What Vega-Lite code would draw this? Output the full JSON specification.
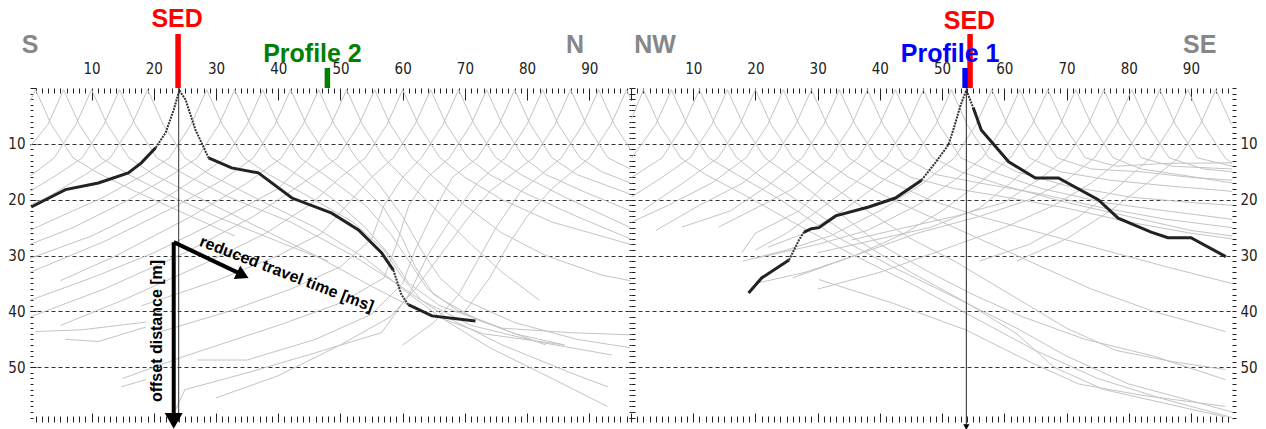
{
"$schema": "https://vega.github.io/schema/vega-lite/v6.json",
"background": "white",
"padding": {"left": 7, "top": 7, "right": 0, "bottom": 0},
"spacing": 0,
"bounds": "flush",
"config": {
  "view": {"stroke": null},
  "axis": {"labelFont": "Liberation Sans Narrow, DejaVu Sans Condensed, Liberation Sans", "labelFontSize": 15, "labelColor": "#222222", "tickColor": "#222222", "tickWidth": 1, "domain": false, "title": null}
},
"datasets": {
  "gl": [
    {"c":1,"x":0.1,"y":2.4},{"c":1,"x":1,"y":0.3},{"c":1,"x":3.5,"y":6.5},{"c":1,"x":7,"y":12.5},{"c":1,"x":11,"y":15.2},{"c":1,"x":17,"y":18.5},{"c":1,"x":25,"y":22.5},{"c":1,"x":33,"y":26.5},
    {"c":2,"x":0.1,"y":10.5},{"c":2,"x":3,"y":6.5},{"c":2,"x":5.5,"y":0.3},{"c":2,"x":8,"y":6.5},{"c":2,"x":11.5,"y":12.5},{"c":2,"x":16,"y":15.5},{"c":2,"x":22,"y":19},{"c":2,"x":30,"y":23},{"c":2,"x":40,"y":27.5},{"c":2,"x":48,"y":31},
    {"c":3,"x":0.1,"y":15.8},{"c":3,"x":4,"y":12.5},{"c":3,"x":7.5,"y":6.5},{"c":3,"x":10,"y":0.3},{"c":3,"x":12.5,"y":6.5},{"c":3,"x":16,"y":12.5},{"c":3,"x":20,"y":15.5},{"c":3,"x":27,"y":19.5},{"c":3,"x":36,"y":24.5},{"c":3,"x":46,"y":30},{"c":3,"x":55,"y":35.5},{"c":3,"x":62,"y":39.5},{"c":3,"x":73,"y":44},{"c":3,"x":86,"y":46},
    {"c":4,"x":0.1,"y":18.5},{"c":4,"x":4.5,"y":15.5},{"c":4,"x":8.5,"y":12.5},{"c":4,"x":12,"y":6.5},{"c":4,"x":14.5,"y":0.3},{"c":4,"x":17,"y":6.5},{"c":4,"x":20.5,"y":12.5},{"c":4,"x":25,"y":15.5},{"c":4,"x":32,"y":19.5},{"c":4,"x":42,"y":24},{"c":4,"x":52,"y":30},{"c":4,"x":59,"y":35},{"c":4,"x":67,"y":41},{"c":4,"x":76,"y":46},{"c":4,"x":87,"y":51},{"c":4,"x":93,"y":53.5},
    {"c":5,"x":0.1,"y":21},{"c":5,"x":3,"y":19.5},{"c":5,"x":9,"y":15.5},{"c":5,"x":13,"y":12.5},{"c":5,"x":16.5,"y":6.5},{"c":5,"x":19,"y":0.3},{"c":5,"x":21.5,"y":6.5},{"c":5,"x":25,"y":12.5},{"c":5,"x":29,"y":15.5},{"c":5,"x":36,"y":19.5},{"c":5,"x":46,"y":25},{"c":5,"x":54,"y":30.5},{"c":5,"x":60,"y":36},{"c":5,"x":66,"y":41},{"c":5,"x":74,"y":46.5},{"c":5,"x":84,"y":52},{"c":5,"x":92.9,"y":57},
    {"c":6,"x":0.1,"y":25.5},{"c":6,"x":3,"y":24},{"c":6,"x":12,"y":19.5},{"c":6,"x":18.5,"y":15.5},{"c":6,"x":22.5,"y":12.5},{"c":6,"x":26,"y":6.5},{"c":6,"x":28.5,"y":0.3},{"c":6,"x":31,"y":6.5},{"c":6,"x":34.5,"y":12.5},{"c":6,"x":38.5,"y":15.5},{"c":6,"x":45,"y":19.5},{"c":6,"x":52,"y":24},{"c":6,"x":57,"y":29},{"c":6,"x":60,"y":34},{"c":6,"x":63,"y":38},{"c":6,"x":71,"y":42.5},{"c":6,"x":82,"y":45.5},{"c":6,"x":93.6,"y":47.8},
    {"c":7,"x":0.1,"y":28},{"c":7,"x":7,"y":25},{"c":7,"x":16,"y":20},{"c":7,"x":23,"y":15.5},{"c":7,"x":27,"y":12.5},{"c":7,"x":30.5,"y":6.5},{"c":7,"x":33,"y":0.3},{"c":7,"x":35.5,"y":6.5},{"c":7,"x":39,"y":12.5},{"c":7,"x":43,"y":15.5},{"c":7,"x":49,"y":20},{"c":7,"x":54,"y":25},{"c":7,"x":58,"y":30},{"c":7,"x":61,"y":35},{"c":7,"x":66,"y":39},{"c":7,"x":76,"y":43},{"c":7,"x":87,"y":43.8},{"c":7,"x":96.6,"y":44.2},
    {"c":8,"x":0.1,"y":30.5},{"c":8,"x":10,"y":26.5},{"c":8,"x":20,"y":21},{"c":8,"x":27,"y":16},{"c":8,"x":31.5,"y":12.5},{"c":8,"x":35,"y":6.5},{"c":8,"x":37.5,"y":0.3},{"c":8,"x":40,"y":6.5},{"c":8,"x":43.5,"y":12.5},{"c":8,"x":48,"y":16},{"c":8,"x":54,"y":21},{"c":8,"x":58,"y":26},{"c":8,"x":61,"y":31},{"c":8,"x":64,"y":36},{"c":8,"x":69,"y":40},{"c":8,"x":78,"y":44},{"c":8,"x":86,"y":46},
    {"c":9,"x":0.1,"y":33},{"c":9,"x":12,"y":27.5},{"c":9,"x":23,"y":21.5},{"c":9,"x":31,"y":16.5},{"c":9,"x":36,"y":12.5},{"c":9,"x":39.5,"y":6.5},{"c":9,"x":42,"y":0.3},{"c":9,"x":44.5,"y":6.5},{"c":9,"x":48,"y":12.5},{"c":9,"x":52,"y":16},{"c":9,"x":57,"y":21.5},{"c":9,"x":60,"y":27},{"c":9,"x":62,"y":32},{"c":9,"x":65,"y":37},{"c":9,"x":72,"y":41.5},{"c":9,"x":83,"y":46},
    {"c":10,"x":5,"y":34.5},{"c":10,"x":14,"y":30},{"c":10,"x":26,"y":23},{"c":10,"x":35,"y":17},{"c":10,"x":40.5,"y":12.5},{"c":10,"x":44,"y":6.5},{"c":10,"x":46.5,"y":0.3},{"c":10,"x":49,"y":6.5},{"c":10,"x":52.5,"y":12.5},{"c":10,"x":56,"y":17},{"c":10,"x":60,"y":23},{"c":10,"x":63,"y":29},{"c":10,"x":66,"y":34},{"c":10,"x":70,"y":38},{"c":10,"x":78,"y":42},{"c":10,"x":88,"y":45},{"c":10,"x":96.6,"y":46.5},
    {"c":11,"x":0.1,"y":38},{"c":11,"x":10,"y":34},{"c":11,"x":20,"y":29.5},{"c":11,"x":30,"y":24},{"c":11,"x":40,"y":18},{"c":11,"x":45,"y":12.5},{"c":11,"x":48.5,"y":6.5},{"c":11,"x":51,"y":0.3},{"c":11,"x":53.5,"y":6.5},{"c":11,"x":57,"y":12.5},{"c":11,"x":61,"y":17},{"c":11,"x":66,"y":22.5},{"c":11,"x":71,"y":28},{"c":11,"x":76,"y":33},{"c":11,"x":82,"y":38},
    {"c":12,"x":0.1,"y":41},{"c":12,"x":12,"y":36},{"c":12,"x":25,"y":29.5},{"c":12,"x":36,"y":23},{"c":12,"x":44,"y":17},{"c":12,"x":49.5,"y":12.5},{"c":12,"x":53,"y":6.5},{"c":12,"x":55.5,"y":0.3},{"c":12,"x":58,"y":6.5},{"c":12,"x":61.5,"y":12.5},{"c":12,"x":65,"y":16},{"c":12,"x":70,"y":21},{"c":12,"x":76,"y":26},{"c":12,"x":83,"y":30},{"c":12,"x":92,"y":33.5},{"c":12,"x":96.6,"y":34.5},
    {"c":13,"x":5,"y":42.5},{"c":13,"x":15,"y":38},{"c":13,"x":28,"y":31.5},{"c":13,"x":38,"y":26},{"c":13,"x":45,"y":21},{"c":13,"x":50,"y":16},{"c":13,"x":54,"y":12.5},{"c":13,"x":57.5,"y":6.5},{"c":13,"x":60,"y":0.3},{"c":13,"x":62.5,"y":6.5},{"c":13,"x":66,"y":12.5},{"c":13,"x":70,"y":16},{"c":13,"x":76,"y":20},{"c":13,"x":84,"y":24},{"c":13,"x":96.6,"y":28},
    {"c":14,"x":18,"y":39},{"c":14,"x":30,"y":34.5},{"c":14,"x":40,"y":30},{"c":14,"x":47,"y":26},{"c":14,"x":51,"y":21},{"c":14,"x":55,"y":16},{"c":14,"x":58.5,"y":12.5},{"c":14,"x":62,"y":6.5},{"c":14,"x":64.5,"y":0.3},{"c":14,"x":67,"y":6.5},{"c":14,"x":70.5,"y":12.5},{"c":14,"x":74,"y":15.5},{"c":14,"x":80,"y":19},{"c":14,"x":88,"y":23},{"c":14,"x":96.6,"y":27},
    {"c":15,"x":20,"y":44},{"c":15,"x":32,"y":40},{"c":15,"x":42,"y":36},{"c":15,"x":50,"y":32},{"c":15,"x":55,"y":27},{"c":15,"x":57,"y":21},{"c":15,"x":60,"y":16},{"c":15,"x":63,"y":12.5},{"c":15,"x":66.5,"y":6.5},{"c":15,"x":69,"y":0.3},{"c":15,"x":71.5,"y":6.5},{"c":15,"x":75,"y":12.5},{"c":15,"x":79,"y":15.5},{"c":15,"x":86,"y":19.5},{"c":15,"x":96.6,"y":25},
    {"c":16,"x":15,"y":52},{"c":16,"x":25,"y":48},{"c":16,"x":40,"y":42.5},{"c":16,"x":50,"y":38.5},{"c":16,"x":57,"y":34},{"c":16,"x":59,"y":28},{"c":16,"x":61,"y":21},{"c":16,"x":64,"y":16},{"c":16,"x":67.5,"y":12.5},{"c":16,"x":71,"y":6.5},{"c":16,"x":73.5,"y":0.3},{"c":16,"x":76,"y":6.5},{"c":16,"x":79.5,"y":12.5},{"c":16,"x":83,"y":15.5},{"c":16,"x":89,"y":18.5},{"c":16,"x":96.6,"y":22},
    {"c":17,"x":27,"y":48.7},{"c":17,"x":35,"y":48.7},{"c":17,"x":46,"y":45},{"c":17,"x":55,"y":40.5},{"c":17,"x":60,"y":35},{"c":17,"x":62,"y":29},{"c":17,"x":65,"y":22},{"c":17,"x":68,"y":16},{"c":17,"x":72,"y":12.5},{"c":17,"x":75.5,"y":6.5},{"c":17,"x":78,"y":0.3},{"c":17,"x":80.5,"y":6.5},{"c":17,"x":84,"y":12.5},{"c":17,"x":88,"y":15.5},{"c":17,"x":96.6,"y":19},
    {"c":18,"x":23.5,"y":57.6},{"c":18,"x":25,"y":54},{"c":18,"x":35,"y":51},{"c":18,"x":46,"y":47.4},{"c":18,"x":56.6,"y":43.8},{"c":18,"x":61,"y":37},{"c":18,"x":64,"y":30},{"c":18,"x":68,"y":23},{"c":18,"x":72,"y":17},{"c":18,"x":76.5,"y":12.5},{"c":18,"x":80,"y":6.5},{"c":18,"x":82.5,"y":0.3},{"c":18,"x":85,"y":6.5},{"c":18,"x":88.5,"y":12.5},{"c":18,"x":92,"y":15},{"c":18,"x":96.6,"y":17},
    {"c":19,"x":30,"y":55.5},{"c":19,"x":40,"y":51.5},{"c":19,"x":50,"y":46},{"c":19,"x":58,"y":41},{"c":19,"x":62,"y":36},{"c":19,"x":66,"y":30},{"c":19,"x":70,"y":24},{"c":19,"x":74,"y":18.5},{"c":19,"x":81,"y":12.5},{"c":19,"x":84.5,"y":6.5},{"c":19,"x":87,"y":0.3},{"c":19,"x":89.5,"y":6.5},{"c":19,"x":93,"y":12.5},{"c":19,"x":96.6,"y":14.5},
    {"c":20,"x":60,"y":46},{"c":20,"x":65,"y":42},{"c":20,"x":69,"y":37},{"c":20,"x":72,"y":31},{"c":20,"x":75,"y":25},{"c":20,"x":79,"y":18.5},{"c":20,"x":85.5,"y":12.5},{"c":20,"x":89,"y":6.5},{"c":20,"x":91.5,"y":0.3},{"c":20,"x":94,"y":6.5},{"c":20,"x":96.6,"y":11},
    {"c":21,"x":70,"y":40},{"c":21,"x":74,"y":34},{"c":21,"x":77,"y":28},{"c":21,"x":80,"y":23},{"c":21,"x":84,"y":18},{"c":21,"x":90,"y":12.5},{"c":21,"x":93.5,"y":6.5},{"c":21,"x":96,"y":0.3},{"c":21,"x":96.6,"y":1.8},
    {"c":22,"x":1,"y":43.6},{"c":22,"x":8.4,"y":43.3},{"c":22,"x":18.8,"y":41.9},
    {"c":23,"x":5.8,"y":45},{"c":23,"x":11.1,"y":45.4},{"c":23,"x":18.7,"y":42.8},
    {"c":24,"x":14.8,"y":53.5},{"c":24,"x":18.7,"y":52.2}
  ],
  "gr": [
    {"c":1,"x":0.1,"y":5.5},{"c":1,"x":2,"y":0.3},{"c":1,"x":4.5,"y":6.5},{"c":1,"x":8,"y":12.5},{"c":1,"x":12,"y":15.5},{"c":1,"x":18,"y":19},{"c":1,"x":26,"y":24},{"c":1,"x":35,"y":29.5},{"c":1,"x":45,"y":35},{"c":1,"x":55,"y":41},{"c":1,"x":65,"y":47},{"c":1,"x":75,"y":52},{"c":1,"x":85,"y":55.5},{"c":1,"x":96.6,"y":59},
    {"c":2,"x":0.1,"y":12.5},{"c":2,"x":4,"y":6.5},{"c":2,"x":6.5,"y":0.3},{"c":2,"x":9,"y":6.5},{"c":2,"x":12.5,"y":12.5},{"c":2,"x":17,"y":15.5},{"c":2,"x":24,"y":20},{"c":2,"x":32,"y":26},{"c":2,"x":42,"y":32},{"c":2,"x":53,"y":38},{"c":2,"x":62,"y":43},{"c":2,"x":70,"y":48},{"c":2,"x":80,"y":53},{"c":2,"x":90,"y":56},{"c":2,"x":96.6,"y":58},
    {"c":3,"x":0.1,"y":16},{"c":3,"x":5,"y":12.5},{"c":3,"x":8.5,"y":6.5},{"c":3,"x":11,"y":0.3},{"c":3,"x":13.5,"y":6.5},{"c":3,"x":17,"y":12.5},{"c":3,"x":21,"y":16},{"c":3,"x":28,"y":21},{"c":3,"x":36,"y":27},{"c":3,"x":45,"y":33},{"c":3,"x":54,"y":38.5},{"c":3,"x":62,"y":44},{"c":3,"x":68,"y":50},{"c":3,"x":76,"y":54},{"c":3,"x":84,"y":56},{"c":3,"x":95.5,"y":58.9},
    {"c":4,"x":0.1,"y":19.5},{"c":4,"x":5,"y":16},{"c":4,"x":9.5,"y":12.5},{"c":4,"x":13,"y":6.5},{"c":4,"x":15.5,"y":0.3},{"c":4,"x":18,"y":6.5},{"c":4,"x":21.5,"y":12.5},{"c":4,"x":26,"y":16},{"c":4,"x":33,"y":22},{"c":4,"x":40,"y":28},{"c":4,"x":48,"y":33},{"c":4,"x":55,"y":37},{"c":4,"x":63,"y":41},{"c":4,"x":73,"y":45},{"c":4,"x":84,"y":48},{"c":4,"x":95.5,"y":52.2},
    {"c":5,"x":2,"y":21.8},{"c":5,"x":9,"y":16.5},{"c":5,"x":14,"y":12.5},{"c":5,"x":17.5,"y":6.5},{"c":5,"x":20,"y":0.3},{"c":5,"x":22.5,"y":6.5},{"c":5,"x":26,"y":12.5},{"c":5,"x":31,"y":16.5},{"c":5,"x":38,"y":22},{"c":5,"x":45,"y":27},{"c":5,"x":52,"y":31},{"c":5,"x":58,"y":35},{"c":5,"x":64,"y":39},{"c":5,"x":70,"y":43},{"c":5,"x":78,"y":47},{"c":5,"x":87,"y":49},{"c":5,"x":95.5,"y":50.4},
    {"c":6,"x":0.1,"y":24},{"c":6,"x":6,"y":21},{"c":6,"x":13,"y":17},{"c":6,"x":18.5,"y":12.5},{"c":6,"x":22,"y":6.5},{"c":6,"x":24.5,"y":0.3},{"c":6,"x":27,"y":6.5},{"c":6,"x":30.5,"y":12.5},{"c":6,"x":35,"y":16},{"c":6,"x":42,"y":20},{"c":6,"x":50,"y":24},{"c":6,"x":58,"y":28},{"c":6,"x":66,"y":32},{"c":6,"x":74,"y":36},{"c":6,"x":84,"y":40},{"c":6,"x":95.5,"y":43.6},
    {"c":7,"x":4,"y":25.5},{"c":7,"x":11,"y":21},{"c":7,"x":18,"y":17},{"c":7,"x":23,"y":12.5},{"c":7,"x":26.5,"y":6.5},{"c":7,"x":29,"y":0.3},{"c":7,"x":31.5,"y":6.5},{"c":7,"x":35,"y":12.5},{"c":7,"x":40,"y":16},{"c":7,"x":48,"y":20},{"c":7,"x":56,"y":23},{"c":7,"x":66,"y":26},{"c":7,"x":76,"y":29},{"c":7,"x":86,"y":32},{"c":7,"x":96.6,"y":35},
    {"c":8,"x":8.2,"y":24.9},{"c":8,"x":16,"y":22},{"c":8,"x":22,"y":17.5},{"c":8,"x":27.5,"y":12.5},{"c":8,"x":31,"y":6.5},{"c":8,"x":33.5,"y":0.3},{"c":8,"x":36,"y":6.5},{"c":8,"x":39.5,"y":12.5},{"c":8,"x":45,"y":16},{"c":8,"x":52,"y":18},{"c":8,"x":60,"y":19.5},{"c":8,"x":70,"y":21.5},{"c":8,"x":80,"y":24},{"c":8,"x":90,"y":26},{"c":8,"x":96.6,"y":27},
    {"c":9,"x":14.1,"y":24.9},{"c":9,"x":21.7,"y":20.6},{"c":9,"x":26,"y":18},{"c":9,"x":32,"y":12.5},{"c":9,"x":35.5,"y":6.5},{"c":9,"x":38,"y":0.3},{"c":9,"x":40.5,"y":6.5},{"c":9,"x":44,"y":12.5},{"c":9,"x":49,"y":15.5},{"c":9,"x":56,"y":17},{"c":9,"x":66,"y":19},{"c":9,"x":76,"y":21.5},{"c":9,"x":86,"y":23.5},{"c":9,"x":96.6,"y":25},
    {"c":10,"x":17.8,"y":29.5},{"c":10,"x":20,"y":26},{"c":10,"x":27,"y":22},{"c":10,"x":31,"y":17.5},{"c":10,"x":36.5,"y":12.5},{"c":10,"x":40,"y":6.5},{"c":10,"x":42.5,"y":0.3},{"c":10,"x":45,"y":6.5},{"c":10,"x":48.5,"y":12.5},{"c":10,"x":53,"y":15},{"c":10,"x":60,"y":17.5},{"c":10,"x":70,"y":20.5},{"c":10,"x":80,"y":23},{"c":10,"x":90,"y":25.5},{"c":10,"x":96.6,"y":26.5},
    {"c":11,"x":20,"y":29},{"c":11,"x":25,"y":26},{"c":11,"x":30,"y":22},{"c":11,"x":36,"y":17},{"c":11,"x":41,"y":12.5},{"c":11,"x":44.5,"y":6.5},{"c":11,"x":47,"y":0.3},{"c":11,"x":49.5,"y":6.5},{"c":11,"x":53,"y":12.5},{"c":11,"x":58,"y":15},{"c":11,"x":66,"y":18},{"c":11,"x":76,"y":20.5},{"c":11,"x":86,"y":22},{"c":11,"x":96.6,"y":23.5},
    {"c":12,"x":22,"y":28.5},{"c":12,"x":28,"y":26},{"c":12,"x":34,"y":22},{"c":12,"x":40,"y":17},{"c":12,"x":45.5,"y":12.5},{"c":12,"x":49,"y":6.5},{"c":12,"x":51.5,"y":0.3},{"c":12,"x":54,"y":6.5},{"c":12,"x":57.5,"y":12.5},{"c":12,"x":62,"y":15},{"c":12,"x":70,"y":17.5},{"c":12,"x":80,"y":19.5},{"c":12,"x":90,"y":20.5},{"c":12,"x":96.6,"y":21},
    {"c":13,"x":18,"y":31},{"c":13,"x":25,"y":29},{"c":13,"x":32,"y":26.5},{"c":13,"x":40,"y":22},{"c":13,"x":47,"y":17},{"c":13,"x":52,"y":12.5},{"c":13,"x":55.5,"y":6.5},{"c":13,"x":58,"y":0.3},{"c":13,"x":60.5,"y":6.5},{"c":13,"x":64,"y":12.5},{"c":13,"x":69,"y":15},{"c":13,"x":77,"y":16.5},{"c":13,"x":86,"y":17.5},{"c":13,"x":96.6,"y":18.5},
    {"c":14,"x":20,"y":30.5},{"c":14,"x":30,"y":28},{"c":14,"x":38,"y":25.5},{"c":14,"x":46,"y":21},{"c":14,"x":52,"y":16.5},{"c":14,"x":56.5,"y":12.5},{"c":14,"x":60,"y":6.5},{"c":14,"x":62.5,"y":0.3},{"c":14,"x":65,"y":6.5},{"c":14,"x":68.5,"y":12.5},{"c":14,"x":74,"y":14.5},{"c":14,"x":82,"y":15},{"c":14,"x":90,"y":16},{"c":14,"x":96.6,"y":16.5},
    {"c":15,"x":20,"y":35},{"c":15,"x":28,"y":33},{"c":15,"x":36,"y":30},{"c":15,"x":44,"y":26},{"c":15,"x":50,"y":22},{"c":15,"x":56,"y":17},{"c":15,"x":61,"y":12.5},{"c":15,"x":64.5,"y":6.5},{"c":15,"x":67,"y":0.3},{"c":15,"x":69.5,"y":6.5},{"c":15,"x":73,"y":12.5},{"c":15,"x":78,"y":14},{"c":15,"x":86,"y":13.5},{"c":15,"x":96.6,"y":13.4},
    {"c":16,"x":30,"y":29.5},{"c":16,"x":40,"y":27},{"c":16,"x":48,"y":25},{"c":16,"x":56,"y":21.5},{"c":16,"x":61,"y":17},{"c":16,"x":65.5,"y":12.5},{"c":16,"x":69,"y":6.5},{"c":16,"x":71.5,"y":0.3},{"c":16,"x":74,"y":6.5},{"c":16,"x":77.5,"y":12.5},{"c":16,"x":82,"y":14.5},{"c":16,"x":88,"y":15.5},{"c":16,"x":96.6,"y":17},
    {"c":17,"x":35.5,"y":27.2},{"c":17,"x":44,"y":25},{"c":17,"x":52,"y":23},{"c":17,"x":60,"y":20.5},{"c":17,"x":66,"y":16},{"c":17,"x":70,"y":12.5},{"c":17,"x":73.5,"y":6.5},{"c":17,"x":76,"y":0.3},{"c":17,"x":78.5,"y":6.5},{"c":17,"x":82,"y":12.5},{"c":17,"x":87,"y":14},{"c":17,"x":96.6,"y":14.5},
    {"c":18,"x":26,"y":34},{"c":18,"x":36,"y":30},{"c":18,"x":46,"y":26},{"c":18,"x":56,"y":23},{"c":18,"x":64,"y":20},{"c":18,"x":70,"y":16.5},{"c":18,"x":74.5,"y":12.5},{"c":18,"x":78,"y":6.5},{"c":18,"x":80.5,"y":0.3},{"c":18,"x":83,"y":6.5},{"c":18,"x":86.5,"y":12.5},{"c":18,"x":92,"y":14.5},{"c":18,"x":96.6,"y":15},
    {"c":19,"x":30,"y":36},{"c":19,"x":40,"y":33},{"c":19,"x":50,"y":29},{"c":19,"x":60,"y":25},{"c":19,"x":68,"y":21},{"c":19,"x":74,"y":17},{"c":19,"x":79,"y":12.5},{"c":19,"x":82.5,"y":6.5},{"c":19,"x":85,"y":0.3},{"c":19,"x":87.5,"y":6.5},{"c":19,"x":91,"y":12.5},{"c":19,"x":96.6,"y":14},
    {"c":20,"x":56,"y":31},{"c":20,"x":64,"y":28},{"c":20,"x":72,"y":23},{"c":20,"x":78,"y":18},{"c":20,"x":83.5,"y":12.5},{"c":20,"x":87,"y":6.5},{"c":20,"x":89.5,"y":0.3},{"c":20,"x":92,"y":6.5},{"c":20,"x":95.5,"y":12.5},{"c":20,"x":96.6,"y":13.5},
    {"c":21,"x":62,"y":31},{"c":21,"x":70,"y":27},{"c":21,"x":77,"y":22},{"c":21,"x":83,"y":17},{"c":21,"x":88,"y":12.5},{"c":21,"x":91.5,"y":6.5},{"c":21,"x":94,"y":0.3},{"c":21,"x":96.5,"y":6.5},
    {"c":22,"x":30.2,"y":34.3},{"c":22,"x":42,"y":38.5},{"c":22,"x":53.8,"y":43.3},{"c":22,"x":64.4,"y":49.2},{"c":22,"x":72,"y":53},{"c":22,"x":82,"y":55},{"c":22,"x":95.5,"y":57}
  ],
  "kfl": [
    {"c":"a","x":0.3,"y":21.3},{"c":"a","x":5.8,"y":18.2},{"c":"a","x":11.1,"y":17},{"c":"a","x":15.9,"y":15.2},{"c":"a","x":18,"y":13.4},{"c":"a","x":20.3,"y":10.7},
    {"c":"b","x":28.8,"y":12.5},{"c":"b","x":32.5,"y":14.3},{"c":"b","x":36.8,"y":15.2},{"c":"b","x":42.2,"y":19.7},{"c":"b","x":48.6,"y":22.4},{"c":"b","x":52.9,"y":25.4},{"c":"b","x":56.6,"y":29.5},{"c":"b","x":58.5,"y":32.6},
    {"c":"c","x":60.9,"y":38.8},{"c":"c","x":64.7,"y":40.8},{"c":"c","x":71.7,"y":41.7}
  ],
  "ksl": [
    {"c":"a","x":20.3,"y":10.7},{"c":"a","x":21.9,"y":8},{"c":"a","x":23.2,"y":3.9},{"c":"a","x":24.1,"y":0.4},{"c":"a","x":25.1,"y":2.1},{"c":"a","x":26.7,"y":7.5},{"c":"a","x":28.8,"y":12.5},
    {"c":"b","x":58.5,"y":32.6},{"c":"b","x":59.8,"y":37},{"c":"b","x":60.9,"y":38.8}
  ],
  "kfr": [
    {"c":"a","x":18.9,"y":36.7},{"c":"a","x":21,"y":34},{"c":"a","x":25.4,"y":30.8},
    {"c":"b","x":27.8,"y":25.8},{"c":"b","x":29,"y":25.2},{"c":"b","x":30.2,"y":25},{"c":"b","x":32.9,"y":22.9},{"c":"b","x":38.2,"y":21.3},{"c":"b","x":42.5,"y":19.7},{"c":"b","x":46.7,"y":16.5},
    {"c":"c","x":55,"y":3.5},{"c":"c","x":56.3,"y":7.5},{"c":"c","x":60.7,"y":13.2},{"c":"c","x":65,"y":16.1},{"c":"c","x":68.7,"y":16.1},{"c":"c","x":75.1,"y":20},{"c":"c","x":78.3,"y":23.3},{"c":"c","x":83.6,"y":25.8},{"c":"c","x":86.3,"y":26.8},{"c":"c","x":90,"y":26.8},{"c":"c","x":95.6,"y":30.2}
  ],
  "ksr": [
    {"c":"a","x":25.4,"y":30.8},{"c":"a","x":27,"y":27.2},{"c":"a","x":27.8,"y":25.8},
    {"c":"b","x":46.7,"y":16.5},{"c":"b","x":48.9,"y":13.4},{"c":"b","x":51,"y":10.2},{"c":"b","x":51.8,"y":7.5},{"c":"b","x":53,"y":3},{"c":"b","x":53.9,"y":0.4},{"c":"b","x":55,"y":3.5}
  ],
  "vl": [{"x":24,"y":0,"y2":59.8}],
  "vr": [{"x":53.9,"y":0,"y2":60.4}],
  "arrows": [{"x":23.2,"y":27.6,"x2":23.2,"y2":58.2},{"x":23.2,"y":27.6,"x2":33.6,"y2":33.1}],
  "headDown": [{"x":23.2,"y":59.6}],
  "headDiag": [{"x":34.3,"y":33.5}],
  "headR": [{"x":53.9,"y":60.7}],
  "barsL": [{"t":"SED","x":23.9,"y":-9.67,"y2":0},{"t":"Profile 2","x":47.9,"y":-3.58,"y2":0}],
  "barsR": [{"t":"SED","x":54.5,"y":-9.67,"y2":0},{"t":"Profile 1","x":53.7,"y":-3.58,"y2":0}],
  "textL": [{"t":"S","x":0.1,"y":-6.27},{"t":"N","x":87.7,"y":-6.27},{"t":"SED","x":23.75,"y":-10.9},{"t":"Profile 2","x":45.5,"y":-4.6}],
  "textR": [{"t":"NW","x":3.87,"y":-6.27},{"t":"SE","x":91.4,"y":-6.27},{"t":"SED","x":54.4,"y":-10.6},{"t":"Profile 1","x":51.3,"y":-4.7}],
  "capTime": [{"t":"reduced travel time [ms]","x":41.35,"y":33.3}],
  "capDist": [{"t":"offset distance [m]","x":20.5,"y":43.5}]
},
"hconcat": [
  {
    "width": 601,
    "height": 334,
    "encoding": {
      "x": {"field": "x", "type": "quantitative", "scale": {"domain": [0.1, 96.7], "nice": false, "zero": false}, "axis": null},
      "y": {"field": "y", "type": "quantitative", "scale": {"domain": [0, 59.8], "nice": false, "zero": false, "reverse": true}, "axis": null}
    },
    "layer": [
      {
        "data": {"name": "gl"},
        "mark": {"type": "line", "color": "#c4c4c4", "strokeWidth": 1, "clip": true},
        "encoding": {
          "x": {"field": "x", "type": "quantitative", "scale": {"domain": [0.1, 96.7], "nice": false, "zero": false},
                "axis": {"orient": "top", "title": null, "tickCount": 100, "labelExpr": "datum.value % 10 === 0 && datum.value > 0 ? datum.label : ''", "labelOverlap": false, "labelFlush": false, "labelPadding": 24, "tickSize": {"condition": {"test": "datum.value % 10 === 0", "value": -12}, "value": -5}, "grid": false}},
          "y": {"field": "y", "type": "quantitative", "scale": {"domain": [0, 59.8], "nice": false, "zero": false, "reverse": true},
                "axis": {"orient": "left", "title": null, "tickCount": 60, "labelExpr": "datum.value % 10 === 0 && datum.value > 0 ? datum.label : ''", "labelOverlap": false, "labelFlush": false, "labelPadding": 11, "tickSize": {"condition": {"test": "datum.value % 10 === 0", "value": -6}, "value": -3}, "grid": true, "gridDash": [4, 3], "gridColor": "#333333", "gridWidth": 1.2, "gridOpacity": {"condition": {"test": "datum.value % 10 === 0 && datum.value > 0", "value": 1}, "value": 0}}},
          "detail": {"field": "c", "type": "nominal"}
        }
      },
      {
        "data": {"name": "kfl"},
        "mark": {"type": "line", "color": "#222222", "strokeWidth": 3, "clip": true},
        "encoding": {
          "x": {"field": "x", "type": "quantitative", "scale": {"domain": [0.1, 96.7], "nice": false, "zero": false},
                "axis": {"orient": "bottom", "title": null, "tickCount": 100, "labels": false, "tickSize": {"condition": {"test": "datum.value % 10 === 0", "value": -9}, "value": -6}, "grid": false}},
          "y": {"field": "y", "type": "quantitative", "scale": {"domain": [0, 59.8], "nice": false, "zero": false, "reverse": true},
                "axis": {"orient": "right", "title": null, "tickCount": 60, "labels": false, "tickSize": -2, "grid": false}},
          "detail": {"field": "c", "type": "nominal"}
        }
      },
      {
        "data": {"name": "ksl"},
        "mark": {"type": "line", "color": "#333333", "strokeWidth": 2, "strokeDash": [2, 1], "clip": true},
        "encoding": {"detail": {"field": "c", "type": "nominal"}}
      },
      {
        "data": {"name": "vl"},
        "mark": {"type": "rule", "color": "#333333", "strokeWidth": 1},
        "encoding": {"y2": {"field": "y2"}}
      },
      {
        "data": {"name": "arrows"},
        "mark": {"type": "rule", "color": "black", "strokeWidth": 4},
        "encoding": {"x2": {"field": "x2"}, "y2": {"field": "y2"}}
      },
      {
        "data": {"name": "headDown"},
        "mark": {"type": "point", "shape": "triangle-down", "filled": true, "size": 324, "color": "black", "opacity": 1},
        "encoding": {}
      },
      {
        "data": {"name": "headDiag"},
        "mark": {"type": "point", "shape": "triangle-right", "filled": true, "size": 220, "color": "black", "opacity": 1, "angle": 26},
        "encoding": {}
      },
      {
        "data": {"name": "barsL"},
        "mark": {"type": "rule", "strokeWidth": 5.5},
        "encoding": {
          "y2": {"field": "y2"},
          "color": {"field": "t", "type": "nominal", "legend": null, "scale": {"domain": ["SED", "Profile 1", "Profile 2", "S", "N", "NW", "SE"], "range": ["#ff0000", "#0000ff", "#008000", "#878787", "#878787", "#878787", "#878787"]}}
        }
      },
      {
        "data": {"name": "textL"},
        "mark": {"type": "text", "font": "Liberation Sans", "fontSize": 25, "fontWeight": "bold", "baseline": "alphabetic", "align": "center"},
        "encoding": {
          "text": {"field": "t"},
          "color": {"field": "t", "type": "nominal", "legend": null, "scale": {"domain": ["SED", "Profile 1", "Profile 2", "S", "N", "NW", "SE"], "range": ["#ff0000", "#0000ff", "#008000", "#878787", "#878787", "#878787", "#878787"]}}
        }
      },
      {
        "data": {"name": "capTime"},
        "mark": {"type": "text", "font": "Liberation Sans", "fontSize": 16, "fontWeight": "bold", "angle": 21, "color": "black", "align": "center", "baseline": "middle"},
        "encoding": {"text": {"field": "t"}}
      },
      {
        "data": {"name": "capDist"},
        "mark": {"type": "text", "font": "Liberation Sans", "fontSize": 16, "fontWeight": "bold", "angle": 270, "color": "black", "align": "center", "baseline": "middle"},
        "encoding": {"text": {"field": "t"}}
      }
    ],
    "resolve": {"axis": {"x": "independent", "y": "independent"}}
  },
  {
    "width": 601,
    "height": 334,
    "encoding": {
      "x": {"field": "x", "type": "quantitative", "scale": {"domain": [0, 96.6], "nice": false, "zero": false}, "axis": null},
      "y": {"field": "y", "type": "quantitative", "scale": {"domain": [0, 59.8], "nice": false, "zero": false, "reverse": true}, "axis": null}
    },
    "layer": [
      {
        "data": {"name": "gr"},
        "mark": {"type": "line", "color": "#c4c4c4", "strokeWidth": 1, "clip": true},
        "encoding": {
          "x": {"field": "x", "type": "quantitative", "scale": {"domain": [0, 96.6], "nice": false, "zero": false},
                "axis": {"orient": "top", "title": null, "tickCount": 100, "labelExpr": "datum.value % 10 === 0 && datum.value > 0 ? datum.label : ''", "labelOverlap": false, "labelFlush": false, "labelPadding": 24, "tickSize": {"condition": {"test": "datum.value % 10 === 0", "value": -12}, "value": -5}, "grid": false}},
          "y": {"field": "y", "type": "quantitative", "scale": {"domain": [0, 59.8], "nice": false, "zero": false, "reverse": true},
                "axis": {"orient": "left", "title": null, "tickCount": 60, "labels": false, "tickSize": -4, "grid": true, "gridDash": [4, 3], "gridColor": "#333333", "gridWidth": 1.2, "gridOpacity": {"condition": {"test": "datum.value % 10 === 0 && datum.value > 0", "value": 1}, "value": 0}}},
          "detail": {"field": "c", "type": "nominal"}
        }
      },
      {
        "data": {"name": "kfr"},
        "mark": {"type": "line", "color": "#222222", "strokeWidth": 3, "clip": true},
        "encoding": {
          "x": {"field": "x", "type": "quantitative", "scale": {"domain": [0, 96.6], "nice": false, "zero": false},
                "axis": {"orient": "bottom", "title": null, "tickCount": 100, "labels": false, "tickSize": {"condition": {"test": "datum.value % 10 === 0", "value": -9}, "value": -6}, "grid": false}},
          "y": {"field": "y", "type": "quantitative", "scale": {"domain": [0, 59.8], "nice": false, "zero": false, "reverse": true},
                "axis": {"orient": "right", "title": null, "tickCount": 60, "labelExpr": "datum.value % 10 === 0 && datum.value > 0 ? datum.label : ''", "labelOverlap": false, "labelFlush": false, "labelPadding": 4, "tickSize": 4, "grid": false}},
          "detail": {"field": "c", "type": "nominal"}
        }
      },
      {
        "data": {"name": "ksr"},
        "mark": {"type": "line", "color": "#333333", "strokeWidth": 2, "strokeDash": [2, 1], "clip": true},
        "encoding": {"detail": {"field": "c", "type": "nominal"}}
      },
      {
        "data": {"name": "vr"},
        "mark": {"type": "rule", "color": "#222222", "strokeWidth": 1},
        "encoding": {"y2": {"field": "y2"}}
      },
      {
        "data": {"name": "headR"},
        "mark": {"type": "point", "shape": "triangle-down", "filled": true, "size": 40, "color": "black", "opacity": 1},
        "encoding": {}
      },
      {
        "data": {"name": "barsR"},
        "mark": {"type": "rule", "strokeWidth": 5.5},
        "encoding": {
          "y2": {"field": "y2"},
          "color": {"field": "t", "type": "nominal", "legend": null, "scale": {"domain": ["SED", "Profile 1", "Profile 2", "S", "N", "NW", "SE"], "range": ["#ff0000", "#0000ff", "#008000", "#878787", "#878787", "#878787", "#878787"]}}
        }
      },
      {
        "data": {"name": "textR"},
        "mark": {"type": "text", "font": "Liberation Sans", "fontSize": 25, "fontWeight": "bold", "baseline": "alphabetic", "align": "center"},
        "encoding": {
          "text": {"field": "t"},
          "color": {"field": "t", "type": "nominal", "legend": null, "scale": {"domain": ["SED", "Profile 1", "Profile 2", "S", "N", "NW", "SE"], "range": ["#ff0000", "#0000ff", "#008000", "#878787", "#878787", "#878787", "#878787"]}}
        }
      }
    ],
    "resolve": {"axis": {"x": "independent", "y": "independent"}}
  }
]
}
